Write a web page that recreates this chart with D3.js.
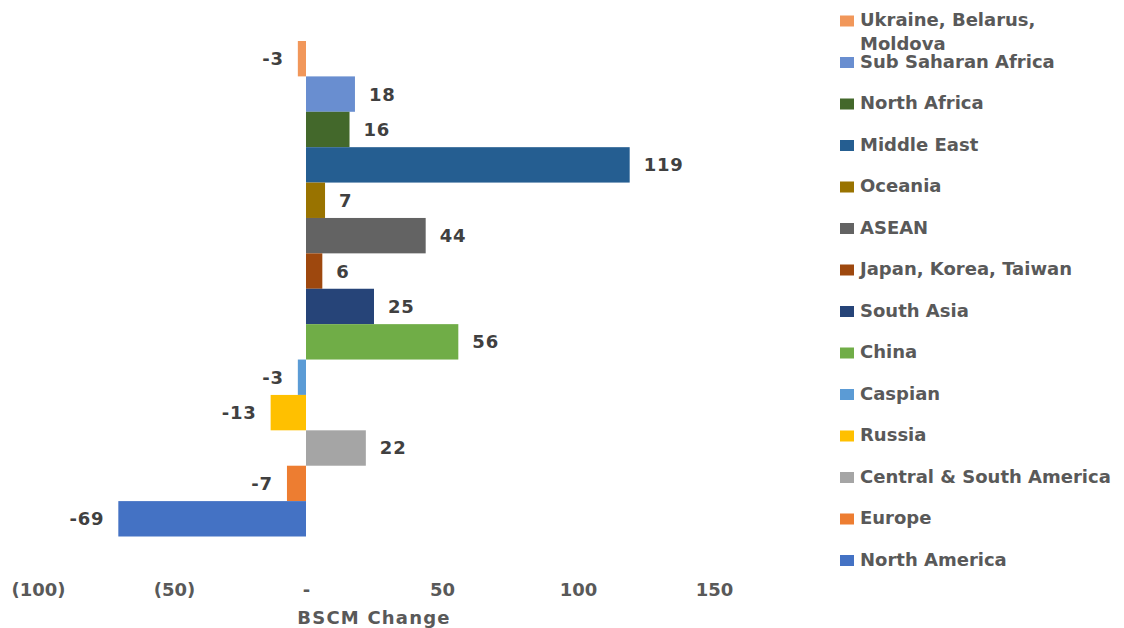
<!DOCTYPE html>
<html>
<head>
<meta charset="utf-8">
<script src="https://cdn.jsdelivr.net/npm/d3@7"></script>
<style>
  html, body { margin: 0; padding: 0; background: #ffffff; }
  svg { display: block; }
  text { font-family: "DejaVu Sans", Verdana, sans-serif; font-weight: bold; }
</style>
</head>
<body>
<svg id="chart" width="1124" height="628"></svg>
<script>
// ---- Data ----
const regions = [
  "Ukraine, Belarus, Moldova",
  "Sub Saharan Africa",
  "North Africa",
  "Middle East",
  "Oceania",
  "ASEAN",
  "Japan, Korea, Taiwan",
  "South Asia",
  "China",
  "Caspian",
  "Russia",
  "Central & South America",
  "Europe",
  "North America"
];
const bscmChange = [-3, 18, 16, 119, 7, 44, 6, 25, 56, -3, -13, 22, -7, -69];
const regionColors = [
  "#F1975A", "#698ED0", "#43682B", "#255E91", "#997300", "#636363", "#9E480E",
  "#264478", "#70AD47", "#5B9BD5", "#FFC000", "#A5A5A5", "#ED7D31", "#4472C4"
];
const xTicks = [-100, -50, 0, 50, 100, 150];
const xTickLabels = ["(100)", "(50)", "-", "50", "100", "150"];
const xAxisTitle = "BSCM Change";
const legendLines = {
  "Ukraine, Belarus, Moldova": ["Ukraine, Belarus,", "Moldova"]
};

// ---- Layout ----
const svg = d3.select("#chart");
const x = d3.scaleLinear().domain([-100, 150]).range([34, 714]);
const y = d3.scaleBand().domain(regions).range([41, 536.5]).paddingInner(0).paddingOuter(0);
const color = d3.scaleOrdinal().domain(regions).range(regionColors);

const data = regions.map((r, i) => ({ region: r, value: bscmChange[i] }));

// Bars
svg.append("g").selectAll("rect")
  .data(data)
  .join("rect")
  .attr("x", d => x(Math.min(0, d.value)))
  .attr("y", d => y(d.region))
  .attr("width", d => Math.abs(x(d.value) - x(0)))
  .attr("height", y.bandwidth())
  .attr("fill", d => color(d.region));

// Data labels
svg.append("g").selectAll("text")
  .data(data)
  .join("text")
  .attr("x", d => d.value >= 0 ? x(d.value) + 14 : x(d.value) - 14)
  .attr("y", d => y(d.region) + y.bandwidth() / 2)
  .attr("dy", "0.36em")
  .attr("text-anchor", d => d.value >= 0 ? "start" : "end")
  .attr("font-size", 18)
  .attr("letter-spacing", 0.8)
  .attr("fill", "#404040")
  .text(d => String(d.value));

// X axis (labels only, no line/ticks)
const xAxis = d3.axisBottom(x)
  .tickValues(xTicks)
  .tickFormat((d, i) => xTickLabels[i])
  .tickSize(0)
  .tickPadding(0);
const gx = svg.append("g").attr("transform", "translate(0,584)").call(xAxis);
gx.select(".domain").remove();
gx.selectAll("text")
  .attr("font-family", "DejaVu Sans, Verdana, sans-serif")
  .attr("font-weight", "bold")
  .attr("font-size", 18)
  .attr("fill", "#595959")
  .attr("dy", "0.36em")
  .attr("y", 6)
  .attr("dx", d => d < 0 ? 4 : 0);

// Axis title
svg.append("text")
  .attr("x", x(25))
  .attr("y", 624)
  .attr("text-anchor", "middle")
  .attr("font-size", 18)
  .attr("letter-spacing", 1.2)
  .attr("fill", "#595959")
  .text(xAxisTitle);

// Legend
const legend = svg.append("g").selectAll("g")
  .data(regions)
  .join("g")
  .attr("transform", (d, i) => `translate(840,${20 + i * 41.5})`);
legend.append("rect")
  .attr("x", 0)
  .attr("y", -4.5)
  .attr("width", 14)
  .attr("height", 11)
  .attr("fill", d => color(d));
legend.append("text")
  .attr("x", 20)
  .attr("y", 0)
  .attr("font-size", 18)
  .attr("fill", "#595959")
  .each(function (d) {
    const lines = legendLines[d] || [d];
    d3.select(this).selectAll("tspan")
      .data(lines)
      .join("tspan")
      .attr("x", 20)
      .attr("y", (l, j) => j * 24)
      .attr("dy", "0.36em")
      .text(l => l);
  });
</script>
</body>
</html>
